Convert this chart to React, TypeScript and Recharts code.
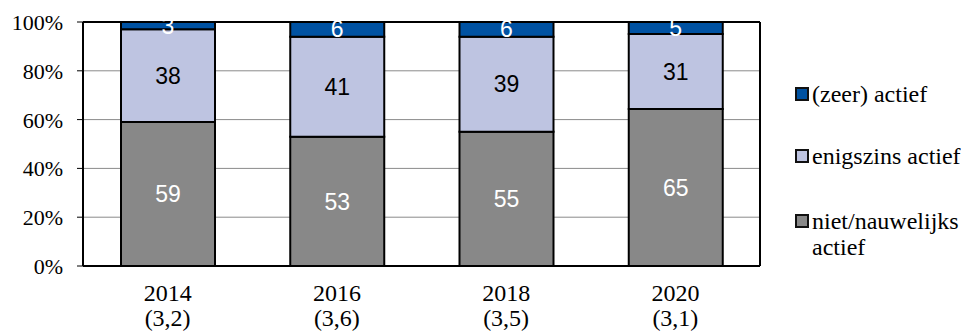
import { BarChart, Bar, XAxis, YAxis, CartesianGrid, LabelList, ReferenceLine } from 'recharts';

const years = ['2014', '2016', '2018', '2020'];
const averages = ['(3,2)', '(3,6)', '(3,5)', '(3,1)'];
const nietActief = [59, 53, 55, 65];
const enigszinsActief = [38, 41, 39, 31];
const zeerActief = [3, 6, 6, 5];
const yTicks = [0, 0.2, 0.4, 0.6, 0.8, 1];

const data = years.map((year, i) => ({
  year,
  avg: averages[i],
  niet: nietActief[i],
  enigszins: enigszinsActief[i],
  zeer: zeerActief[i],
}));

const COLORS = {
  zeer: '#0052A2',
  enigszins: '#BEC4E1',
  niet: '#888888',
};

const serif = "'Liberation Serif', serif";
const sans = "'Liberation Sans', sans-serif";

const XTick = ({ x, y, payload }: any) => {
  const row = data.find((d) => d.year === payload.value);
  return (
    <text x={x} y={y} textAnchor="middle" style={{ fontFamily: serif, fontSize: 24 }} fill="#000">
      <tspan x={x} dy={27}>{payload.value}</tspan>
      <tspan x={x} dy={25}>{row ? row.avg : ''}</tspan>
    </text>
  );
};

const YTick = ({ x, y, payload }: any) => (
  <text x={x} y={y} dy={8} textAnchor="end" style={{ fontFamily: serif, fontSize: 22 }} fill="#000">
    {`${Math.round(payload.value * 100)}%`}
  </text>
);

// baselines of each legend entry, reversed order like the stack
const legendItems = [
  { key: 'zeer', lines: ['(zeer) actief'], baseline: 102 },
  { key: 'enigszins', lines: ['enigszins actief'], baseline: 164 },
  { key: 'niet', lines: ['niet/nauwelijks', 'actief'], baseline: 229 },
];

const SideLegend = () => (
  <svg width={166} height={333} style={{ position: 'absolute', left: 795, top: 0 }}>
    {legendItems.map((item) => (
      <g key={item.key}>
        <rect
          x={1}
          y={item.baseline - 14}
          width={12}
          height={12}
          fill={COLORS[item.key as keyof typeof COLORS]}
          stroke="#111"
          strokeWidth={2}
        />
        <text x={17} y={item.baseline} style={{ fontFamily: serif, fontSize: 24 }} fill="#000">
          {item.lines.map((l, i) => (
            <tspan key={l} x={17} dy={i === 0 ? 0 : 26}>{l}</tspan>
          ))}
        </text>
      </g>
    ))}
  </svg>
);

export default function App() {
  return (
    <div style={{ position: 'absolute', left: 0, top: 0, width: 961, height: 333, background: '#fff' }}>
      <BarChart
        width={961}
        height={333}
        data={data}
        stackOffset="expand"
        margin={{ top: 22, right: 200, bottom: 0, left: 0 }}
      >
        <CartesianGrid vertical={false} stroke="#8a8a8a" strokeWidth={1} />
        <XAxis
          dataKey="year"
          height={67}
          tickLine={false}
          axisLine={{ stroke: '#000', strokeWidth: 2 }}
          tick={<XTick />}
          interval={0}
        />
        <YAxis
          width={83}
          domain={[0, 1]}
          ticks={yTicks}
          tick={<YTick />}
          tickSize={6}
          tickMargin={14}
          tickLine={{ stroke: '#000' }}
          axisLine={{ stroke: '#000', strokeWidth: 2 }}
        />
        <YAxis
          yAxisId="right"
          orientation="right"
          width={1}
          tick={false}
          tickLine={false}
          axisLine={{ stroke: '#000', strokeWidth: 2 }}
        />
        <ReferenceLine y={1} stroke="#000" strokeWidth={2} />
        <Bar dataKey="niet" stackId="a" fill={COLORS.niet} stroke="#000" strokeWidth={2} barSize={94} isAnimationActive={false}>
          <LabelList dataKey="niet" position="center" fill="#fff" fontFamily={sans} fontSize={23} />
        </Bar>
        <Bar dataKey="enigszins" stackId="a" fill={COLORS.enigszins} stroke="#000" strokeWidth={2} barSize={94} isAnimationActive={false}>
          <LabelList dataKey="enigszins" position="center" fill="#000" fontFamily={sans} fontSize={23} />
        </Bar>
        <Bar dataKey="zeer" stackId="a" fill={COLORS.zeer} stroke="#000" strokeWidth={2} barSize={94} isAnimationActive={false}>
          <LabelList dataKey="zeer" position="center" fill="#fff" fontFamily={sans} fontSize={23} />
        </Bar>
      </BarChart>
      <SideLegend />
    </div>
  );
}
